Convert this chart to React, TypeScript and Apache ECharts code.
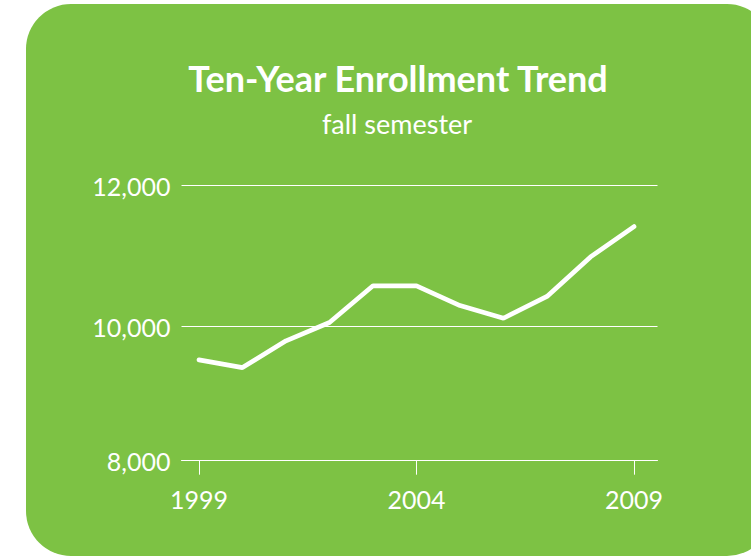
import React, { useEffect, useRef } from "react";
import * as echarts from "echarts";

const years: number[] = [1999, 2000, 2001, 2002, 2003, 2004, 2005, 2006, 2007, 2008, 2009];
const enrollment: number[] = [9530, 9420, 9800, 10060, 10580, 10580, 10300, 10120, 10430, 10990, 11420];
const xTickValues: number[] = [1999, 2004, 2009];
const titleText = "Ten-Year Enrollment Trend";
const subtitleText = "fall semester";

const GREEN = "#7DC244";
const FONT = "Lato, 'Open Sans', sans-serif";

export default function App() {
  const ref = useRef<HTMLDivElement>(null);
  useEffect(() => {
    if (!ref.current) return;
    const chart = echarts.init(ref.current, undefined, { renderer: "svg" });
    chart.setOption({
      animation: false,
      backgroundColor: "#ffffff",
      graphic: [
        {
          type: "rect",
          z: -10,
          silent: true,
          shape: { x: 26, y: 4, width: 746, height: 552, r: 45 },
          style: { fill: GREEN },
        },
        {
          type: "text",
          x: 398,
          y: 78,
          style: {
            text: titleText,
            fill: "#ffffff",
            fontFamily: FONT,
            fontWeight: "bold",
            fontSize: 36,
            align: "center",
            verticalAlign: "middle",
            textAlign: "center",
            textVerticalAlign: "middle",
          },
        },
        {
          type: "text",
          x: 397,
          y: 123,
          style: {
            text: subtitleText,
            fill: "#ffffff",
            fontFamily: FONT,
            fontSize: 27,
            align: "center",
            verticalAlign: "middle",
            textAlign: "center",
            textVerticalAlign: "middle",
          },
        },
      ],
      grid: { left: 181.5, right: 93.5, top: 185.7, bottom: 558 - 467.7, containLabel: false },
      xAxis: {
        type: "value",
        min: 1998.598,
        max: 2009.54,
        offset: -7,
        splitLine: { show: false },
        axisLine: { show: true, lineStyle: { color: "#ffffff", width: 1 } },
        axisTick: { show: true, customValues: xTickValues, length: 14, lineStyle: { color: "#ffffff", width: 1 } },
        axisLabel: {
          customValues: xTickValues,
          formatter: (v: number) => String(v),
          color: "#ffffff",
          fontFamily: FONT,
          fontSize: 25,
          margin: 26,
        },
      },
      yAxis: {
        type: "value",
        min: 8000,
        max: 12000,
        interval: 2000,
        axisLine: { show: false },
        axisTick: { show: false },
        splitLine: { show: true, lineStyle: { color: ["rgba(0,0,0,0)", "#ffffff", "#ffffff"], width: 1 } },
        axisLabel: {
          color: "#ffffff",
          fontFamily: FONT,
          fontSize: 25,
          margin: 11,
          formatter: (v: number) => {
            const s = v.toLocaleString("en-US");
            return v === 8000 ? "{low|" + s + "}" : s;
          },
          rich: {
            low: { color: "#ffffff", fontFamily: FONT, fontSize: 25, padding: [0, 0, 14, 0] },
          },
        },
      },
      series: [
        {
          type: "line",
          data: years.map((y, i) => [y, enrollment[i]]),
          symbol: "none",
          lineStyle: { color: "#ffffff", width: 4.7, cap: "round" },
        },
      ],
    });
    return () => chart.dispose();
  }, []);
  return <div ref={ref} style={{ width: 751, height: 558, position: "absolute", left: 0, top: 0 }} />;
}
